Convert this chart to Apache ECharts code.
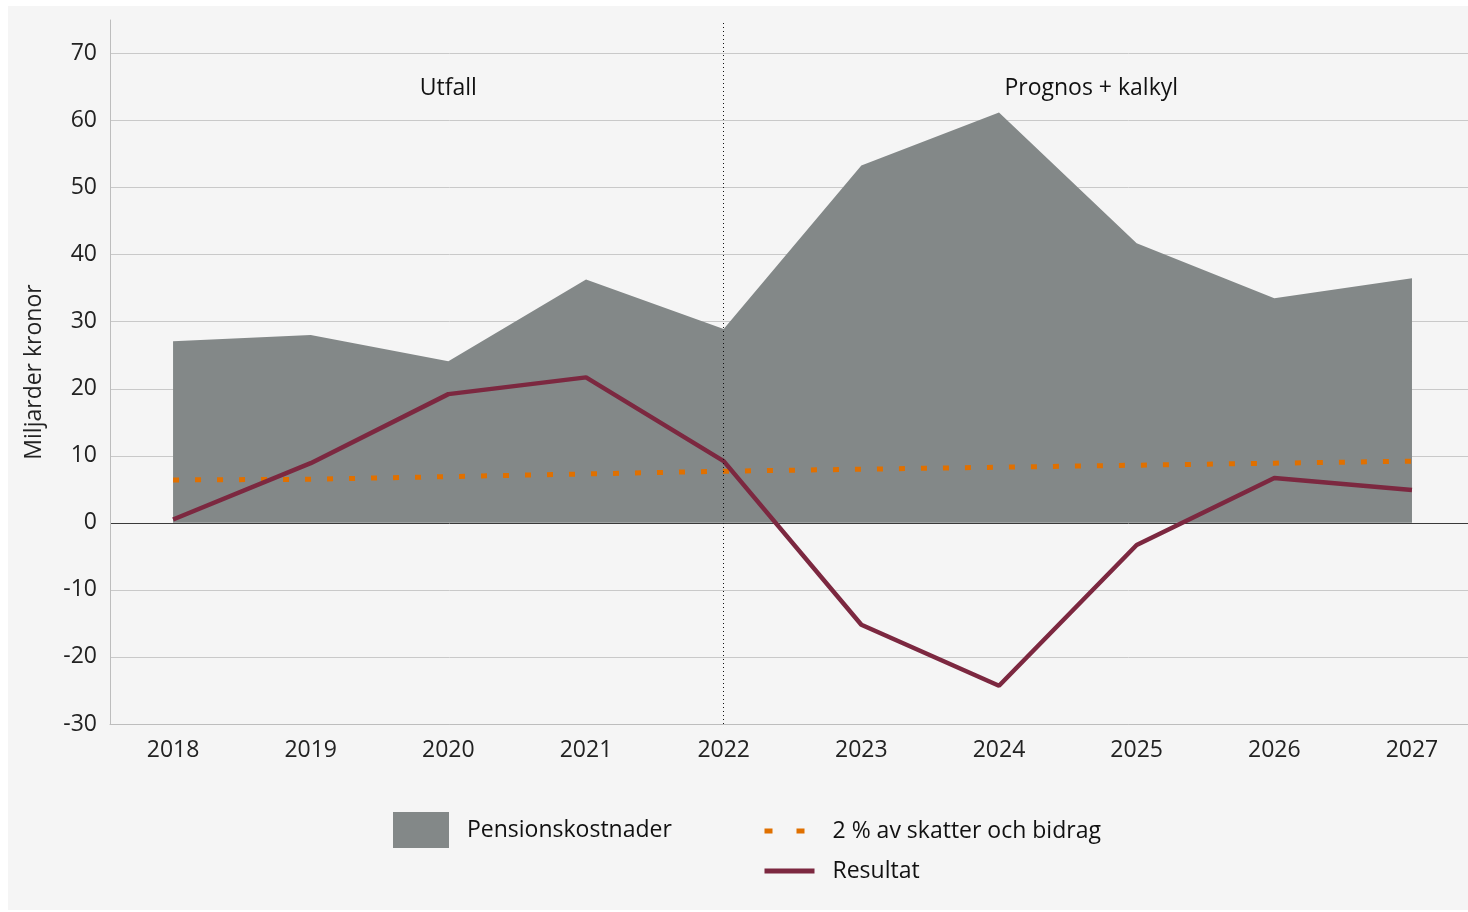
<!DOCTYPE html>
<html>
<head>
<meta charset="utf-8">
<script src="https://cdn.jsdelivr.net/npm/echarts@6/dist/echarts.min.js"></script>
<style>
  html, body { margin: 0; padding: 0; background: #ffffff; }
  #chart { position: absolute; left: 8px; top: 6px; width: 1460px; height: 904px; }
</style>
</head>
<body>
<div id="chart"></div>
<script>
var years = [2018, 2019, 2020, 2021, 2022, 2023, 2024, 2025, 2026, 2027];
var pension = [27.1, 28.0, 24.1, 36.3, 28.9, 53.3, 61.2, 41.7, 33.5, 36.5];
var twoPercent = [6.4, 6.5, 6.9, 7.3, 7.7, 8.0, 8.3, 8.6, 8.9, 9.2];
var resultat = [0.5, 8.9, 19.2, 21.7, 9.2, -15.2, -24.3, -3.3, 6.7, 4.9];

var nameArea = 'Pensionskostnader';
var nameDots = '2 % av skatter och bidrag';
var nameLine = 'Resultat';

function pairs(vals) {
  var out = [];
  for (var i = 0; i < years.length; i++) {
    out.push([years[i], vals[i]]);
  }
  return out;
}

var chartDom = document.getElementById('chart');
var myChart = echarts.init(chartDom);
var font = 'Open Sans';
var grey = '#838888', orange = '#e07000', wine = '#7c2840';

// split line colours: -30 ... 70, then 75 (top edge, hidden); the 0 line is dark
var splitColors = ['#c9c9c9', '#c9c9c9', '#c9c9c9', '#3a3a3a', '#c9c9c9', '#c9c9c9',
                   '#c9c9c9', '#c9c9c9', '#c9c9c9', '#c9c9c9', '#c9c9c9', 'rgba(0,0,0,0)'];

var option = {
  backgroundColor: '#f5f5f5',
  animation: false,
  grid: { left: 102, right: 0, top: 14, bottom: 186 },
  legend: [
    {
      data: [{ name: nameArea, icon: 'rect' }],
      left: 385, top: 806, padding: 0,
      itemWidth: 56, itemHeight: 36,
      itemStyle: { borderWidth: 0 },
      textStyle: { fontFamily: font, fontSize: 23, color: '#111', padding: [0, 0, 0, 13] }
    },
    {
      data: [
        { name: nameDots, itemStyle: { opacity: 0 }, lineStyle: { color: orange, width: 5, type: [8, 24], cap: 'butt' } },
        { name: nameLine, itemStyle: { opacity: 0 }, lineStyle: { color: wine, width: 5 } }
      ],
      orient: 'vertical',
      left: 754, top: 811, padding: 0,
      itemWidth: 50, itemHeight: 14,
      itemGap: 12,
      textStyle: { fontFamily: font, fontSize: 23, color: '#111', lineHeight: 28, padding: [0, 0, 0, 13] }
    }
  ],
  xAxis: {
    type: 'value',
    min: 2017.542,
    max: 2027.407,
    axisLine: { onZero: false, lineStyle: { color: '#bdbdbd', width: 1 } },
    axisTick: { show: false },
    splitLine: { show: false },
    axisLabel: {
      customValues: years,
      formatter: function (v) { return String(v); },
      fontFamily: font, fontSize: 23, color: '#222', margin: 15
    }
  },
  yAxis: {
    type: 'value',
    min: -30,
    max: 75,
    interval: 10,
    name: 'Miljarder kronor',
    nameLocation: 'middle',
    nameGap: 64,
    nameTextStyle: { fontFamily: font, fontSize: 23, color: '#222' },
    axisLine: { show: true, lineStyle: { color: '#bdbdbd', width: 1 } },
    axisTick: { show: false },
    axisLabel: {
      fontFamily: font, fontSize: 23, color: '#222', margin: 13,
      formatter: function (v) { return v > 70 ? '' : String(v); }
    },
    splitLine: { show: true, lineStyle: { color: splitColors, width: 1 } }
  },
  series: [
    {
      name: nameArea,
      type: 'line',
      data: pairs(pension),
      symbol: 'none',
      lineStyle: { width: 0 },
      itemStyle: { color: grey },
      areaStyle: { color: grey, opacity: 1 },
      z: 1,
      markLine: {
        silent: true,
        symbol: 'none',
        label: { show: false },
        lineStyle: { color: '#111', width: 1, type: [1, 3] },
        data: [{ xAxis: 2022 }]
      },
      markPoint: {
        silent: true,
        symbol: 'circle',
        symbolSize: 1,
        itemStyle: { color: 'rgba(0,0,0,0)' },
        label: {
          show: true, position: 'inside',
          fontFamily: font, fontSize: 23, color: '#111',
          formatter: function (p) { return p.name; }
        },
        data: [
          { name: 'Utfall', coord: [2020, 64.8] },
          { name: 'Prognos + kalkyl', coord: [2024.67, 64.8] }
        ]
      }
    },
    {
      name: nameDots,
      type: 'line',
      data: pairs(twoPercent),
      symbol: 'none',
      itemStyle: { color: orange },
      lineStyle: { color: orange, width: 5, type: [6, 16], cap: 'butt' },
      z: 3
    },
    {
      name: nameLine,
      type: 'line',
      data: pairs(resultat),
      symbol: 'none',
      itemStyle: { color: wine },
      lineStyle: { color: wine, width: 4.5 },
      z: 4
    }
  ]
};

option && myChart.setOption(option);
</script>
</body>
</html>
